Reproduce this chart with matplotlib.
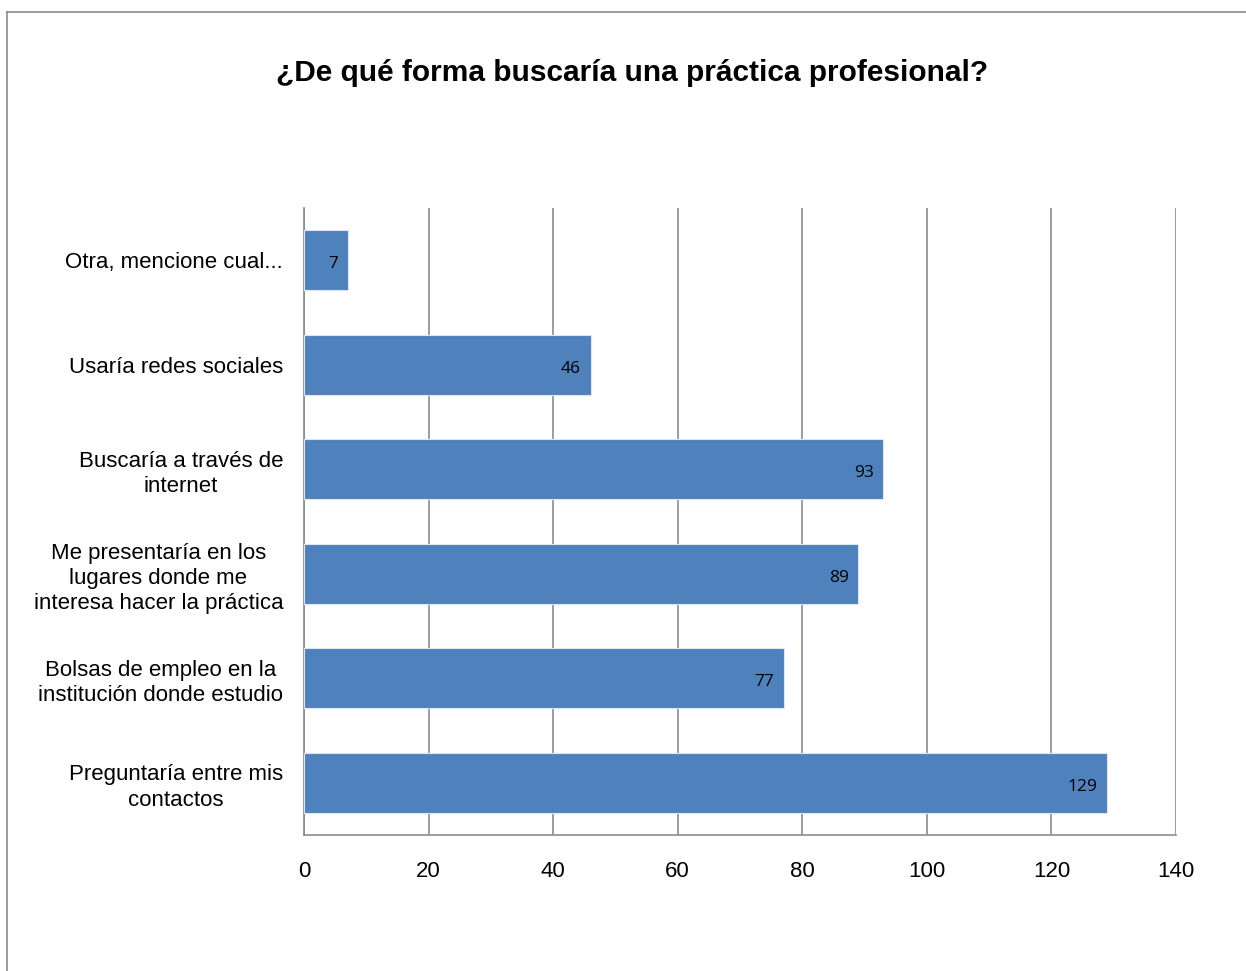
import matplotlib.pyplot as plt
from matplotlib.lines import Line2D

# categories listed bottom to top
categories = [
    "Preguntaría entre mis\ncontactos",
    "Bolsas de empleo en la\ninstitución donde estudio",
    "Me presentaría en los\nlugares donde me\ninteresa hacer la práctica",
    "Buscaría a través de\ninternet",
    "Usaría redes sociales",
    "Otra, mencione cual...",
]
values = [129, 77, 89, 93, 46, 7]
x_ticks = [0, 20, 40, 60, 80, 100, 120, 140]

title = "¿De qué forma buscaría una práctica profesional?"

plt.rcParams['font.family'] = ['Liberation Sans', 'DejaVu Sans']

fig = plt.figure(figsize=(12.46, 9.71), dpi=100)
ax = fig.add_axes([0.244, 0.140, 0.6998, 0.6458])

grid_col = "#8c8c8c"
ax.set_axisbelow(True)
ax.grid(axis="x", color=grid_col, linewidth=1.2)
ax.barh(range(len(values)), values, height=0.575, color="#4F81BD",
        edgecolor="#dce6f2", linewidth=0.8, zorder=3)

for i, v in enumerate(values):
    ax.annotate(str(v), xy=(v, i), xytext=(-7, -3), textcoords="offset points",
                ha="right", va="center", fontsize=12.5, family="Open Sans",
                color="black", zorder=4)

ax.set_xlim(0, 140)
ax.set_ylim(-0.5, len(values) - 0.5)
ax.set_xticks(x_ticks)
ax.set_yticks(range(len(categories)))
ax.set_yticklabels(categories, fontsize=16, ha="right", multialignment="center",
                   linespacing=1.27)
ax.tick_params(axis="y", length=0, pad=15)
ax.tick_params(axis="x", length=0, pad=19, labelsize=16)

for s in ["top", "right"]:
    ax.spines[s].set_visible(False)
for s in ["left", "bottom"]:
    ax.spines[s].set_color(grid_col)
    ax.spines[s].set_linewidth(1.2)

fig.text(0.507, 0.925, title, ha="center", va="center", fontsize=21.5,
         fontweight="bold")

# outer chart frame (clipped by image edges)
fig.add_artist(Line2D([7 / 1246, 7 / 1246], [0, 1 - 12 / 971],
                      transform=fig.transFigure, color=grid_col, linewidth=1.2))
fig.add_artist(Line2D([7 / 1246, 1], [1 - 12 / 971, 1 - 12 / 971],
                      transform=fig.transFigure, color=grid_col, linewidth=1.2))

fig.savefig("out.png", dpi=100)
